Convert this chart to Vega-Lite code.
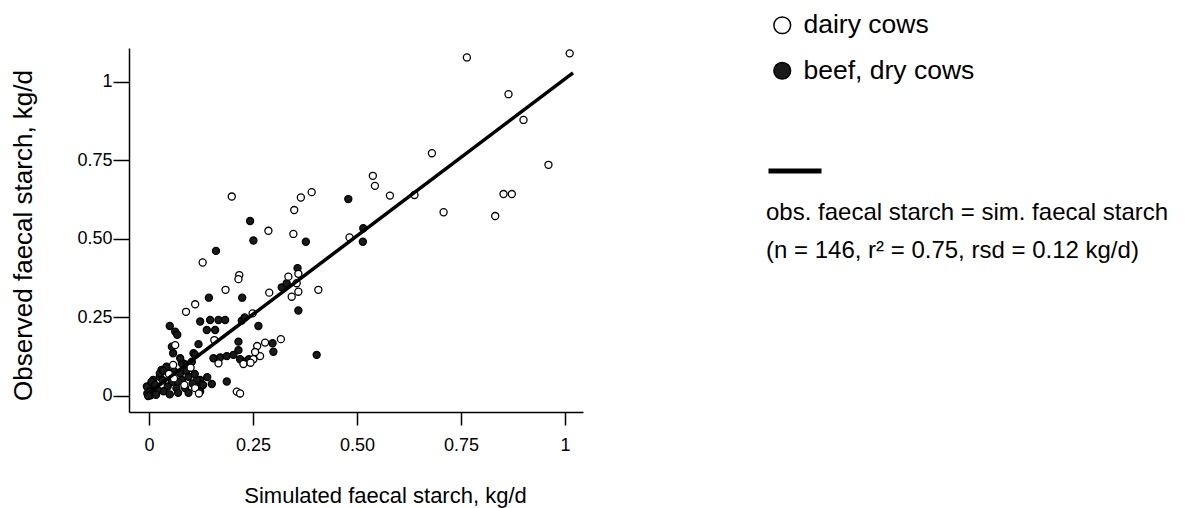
{
 "$schema": "https://vega.github.io/schema/vega-lite/v6.json",
 "autosize": {"type": "none"},
 "padding": {"left": 129, "top": 48, "right": 603, "bottom": 96},
 "width": 454,
 "height": 364,
 "background": "white",
 "config": {
  "font": "Liberation Sans",
  "view": {"stroke": null},
  "axis": {"grid": false, "domainColor": "#000", "domainWidth": 1.5, "tickColor": "#000", "tickWidth": 1.5, "labelColor": "#000", "titleColor": "#000", "labelFont": "Liberation Sans", "titleFont": "Liberation Sans", "titleFontWeight": "normal", "labelFontSize": 18, "labelFlush": false}
 },
 "layer": [
  {
   "data": {"values": [
    {"sim": 0.479, "obs": 0.627, "group": "beef, dry cows"},
    {"sim": 0.515, "obs": 0.534, "group": "beef, dry cows"},
    {"sim": 0.514, "obs": 0.491, "group": "beef, dry cows"},
    {"sim": 0.243, "obs": 0.557, "group": "beef, dry cows"},
    {"sim": 0.251, "obs": 0.495, "group": "beef, dry cows"},
    {"sim": 0.377, "obs": 0.491, "group": "beef, dry cows"},
    {"sim": 0.161, "obs": 0.462, "group": "beef, dry cows"},
    {"sim": 0.357, "obs": 0.407, "group": "beef, dry cows"},
    {"sim": 0.319, "obs": 0.346, "group": "beef, dry cows"},
    {"sim": 0.331, "obs": 0.359, "group": "beef, dry cows"},
    {"sim": 0.144, "obs": 0.313, "group": "beef, dry cows"},
    {"sim": 0.224, "obs": 0.313, "group": "beef, dry cows"},
    {"sim": 0.359, "obs": 0.272, "group": "beef, dry cows"},
    {"sim": 0.123, "obs": 0.237, "group": "beef, dry cows"},
    {"sim": 0.147, "obs": 0.242, "group": "beef, dry cows"},
    {"sim": 0.167, "obs": 0.242, "group": "beef, dry cows"},
    {"sim": 0.183, "obs": 0.242, "group": "beef, dry cows"},
    {"sim": 0.223, "obs": 0.240, "group": "beef, dry cows"},
    {"sim": 0.050, "obs": 0.223, "group": "beef, dry cows"},
    {"sim": 0.063, "obs": 0.205, "group": "beef, dry cows"},
    {"sim": 0.068, "obs": 0.195, "group": "beef, dry cows"},
    {"sim": 0.139, "obs": 0.210, "group": "beef, dry cows"},
    {"sim": 0.159, "obs": 0.210, "group": "beef, dry cows"},
    {"sim": 0.263, "obs": 0.223, "group": "beef, dry cows"},
    {"sim": 0.119, "obs": 0.165, "group": "beef, dry cows"},
    {"sim": 0.055, "obs": 0.157, "group": "beef, dry cows"},
    {"sim": 0.058, "obs": 0.136, "group": "beef, dry cows"},
    {"sim": 0.215, "obs": 0.173, "group": "beef, dry cows"},
    {"sim": 0.215, "obs": 0.146, "group": "beef, dry cows"},
    {"sim": 0.107, "obs": 0.136, "group": "beef, dry cows"},
    {"sim": 0.297, "obs": 0.168, "group": "beef, dry cows"},
    {"sim": 0.299, "obs": 0.141, "group": "beef, dry cows"},
    {"sim": 0.403, "obs": 0.131, "group": "beef, dry cows"},
    {"sim": 0.155, "obs": 0.120, "group": "beef, dry cows"},
    {"sim": 0.171, "obs": 0.123, "group": "beef, dry cows"},
    {"sim": 0.187, "obs": 0.127, "group": "beef, dry cows"},
    {"sim": 0.203, "obs": 0.131, "group": "beef, dry cows"},
    {"sim": 0.219, "obs": 0.117, "group": "beef, dry cows"},
    {"sim": 0.233, "obs": 0.110, "group": "beef, dry cows"},
    {"sim": 0.030, "obs": 0.083, "group": "beef, dry cows"},
    {"sim": 0.042, "obs": 0.088, "group": "beef, dry cows"},
    {"sim": 0.151, "obs": 0.038, "group": "beef, dry cows"},
    {"sim": 0.187, "obs": 0.046, "group": "beef, dry cows"},
    {"sim": 0.123, "obs": 0.051, "group": "beef, dry cows"},
    {"sim": 0.123, "obs": 0.025, "group": "beef, dry cows"},
    {"sim": 0.000, "obs": 0.030, "group": "beef, dry cows"},
    {"sim": 0.008, "obs": 0.040, "group": "beef, dry cows"},
    {"sim": -0.004, "obs": 0.008, "group": "beef, dry cows"},
    {"sim": 0.004, "obs": 0.002, "group": "beef, dry cows"},
    {"sim": 0.026, "obs": 0.061, "group": "beef, dry cows"},
    {"sim": 0.082, "obs": 0.104, "group": "beef, dry cows"},
    {"sim": 0.103, "obs": 0.109, "group": "beef, dry cows"},
    {"sim": 0.079, "obs": 0.104, "group": "beef, dry cows"},
    {"sim": 0.091, "obs": 0.100, "group": "beef, dry cows"},
    {"sim": 0.010, "obs": 0.051, "group": "beef, dry cows"},
    {"sim": 0.026, "obs": 0.072, "group": "beef, dry cows"},
    {"sim": 0.075, "obs": 0.072, "group": "beef, dry cows"},
    {"sim": 0.079, "obs": 0.051, "group": "beef, dry cows"},
    {"sim": 0.095, "obs": 0.061, "group": "beef, dry cows"},
    {"sim": 0.115, "obs": 0.051, "group": "beef, dry cows"},
    {"sim": 0.066, "obs": 0.025, "group": "beef, dry cows"},
    {"sim": 0.087, "obs": 0.025, "group": "beef, dry cows"},
    {"sim": 0.115, "obs": 0.025, "group": "beef, dry cows"},
    {"sim": 0.123, "obs": 0.014, "group": "beef, dry cows"},
    {"sim": -0.005, "obs": 0.030, "group": "beef, dry cows"},
    {"sim": 0.002, "obs": 0.014, "group": "beef, dry cows"},
    {"sim": -0.002, "obs": 0.000, "group": "beef, dry cows"},
    {"sim": 0.006, "obs": 0.045, "group": "beef, dry cows"},
    {"sim": 0.111, "obs": 0.131, "group": "beef, dry cows"},
    {"sim": 0.042, "obs": 0.093, "group": "beef, dry cows"},
    {"sim": 0.034, "obs": 0.080, "group": "beef, dry cows"},
    {"sim": 0.055, "obs": 0.045, "group": "beef, dry cows"},
    {"sim": 0.045, "obs": 0.030, "group": "beef, dry cows"},
    {"sim": 0.035, "obs": 0.015, "group": "beef, dry cows"},
    {"sim": 0.070, "obs": 0.010, "group": "beef, dry cows"},
    {"sim": 0.095, "obs": 0.010, "group": "beef, dry cows"},
    {"sim": 0.105, "obs": 0.040, "group": "beef, dry cows"},
    {"sim": 0.130, "obs": 0.035, "group": "beef, dry cows"},
    {"sim": 0.060, "obs": 0.080, "group": "beef, dry cows"},
    {"sim": 0.020, "obs": 0.020, "group": "beef, dry cows"},
    {"sim": 0.015, "obs": 0.035, "group": "beef, dry cows"},
    {"sim": 0.070, "obs": 0.045, "group": "beef, dry cows"},
    {"sim": 0.090, "obs": 0.080, "group": "beef, dry cows"},
    {"sim": 0.110, "obs": 0.070, "group": "beef, dry cows"},
    {"sim": 0.050, "obs": 0.005, "group": "beef, dry cows"},
    {"sim": 0.140, "obs": 0.060, "group": "beef, dry cows"},
    {"sim": 0.075, "obs": 0.120, "group": "beef, dry cows"},
    {"sim": 0.240, "obs": 0.117, "group": "beef, dry cows"},
    {"sim": 0.230, "obs": 0.250, "group": "beef, dry cows"},
    {"sim": 0.017, "obs": 0.004, "group": "beef, dry cows"},
    {"sim": 0.033, "obs": 0.050, "group": "beef, dry cows"},
    {"sim": 1.011, "obs": 1.091, "group": "dairy cows"},
    {"sim": 0.764, "obs": 1.078, "group": "dairy cows"},
    {"sim": 0.864, "obs": 0.961, "group": "dairy cows"},
    {"sim": 0.900, "obs": 0.879, "group": "dairy cows"},
    {"sim": 0.960, "obs": 0.736, "group": "dairy cows"},
    {"sim": 0.680, "obs": 0.773, "group": "dairy cows"},
    {"sim": 0.538, "obs": 0.701, "group": "dairy cows"},
    {"sim": 0.543, "obs": 0.669, "group": "dairy cows"},
    {"sim": 0.579, "obs": 0.638, "group": "dairy cows"},
    {"sim": 0.638, "obs": 0.640, "group": "dairy cows"},
    {"sim": 0.852, "obs": 0.643, "group": "dairy cows"},
    {"sim": 0.872, "obs": 0.643, "group": "dairy cows"},
    {"sim": 0.708, "obs": 0.585, "group": "dairy cows"},
    {"sim": 0.832, "obs": 0.573, "group": "dairy cows"},
    {"sim": 0.482, "obs": 0.505, "group": "dairy cows"},
    {"sim": 0.199, "obs": 0.635, "group": "dairy cows"},
    {"sim": 0.365, "obs": 0.632, "group": "dairy cows"},
    {"sim": 0.391, "obs": 0.649, "group": "dairy cows"},
    {"sim": 0.349, "obs": 0.592, "group": "dairy cows"},
    {"sim": 0.287, "obs": 0.526, "group": "dairy cows"},
    {"sim": 0.347, "obs": 0.516, "group": "dairy cows"},
    {"sim": 0.129, "obs": 0.425, "group": "dairy cows"},
    {"sim": 0.217, "obs": 0.385, "group": "dairy cows"},
    {"sim": 0.215, "obs": 0.372, "group": "dairy cows"},
    {"sim": 0.335, "obs": 0.380, "group": "dairy cows"},
    {"sim": 0.359, "obs": 0.389, "group": "dairy cows"},
    {"sim": 0.355, "obs": 0.359, "group": "dairy cows"},
    {"sim": 0.343, "obs": 0.316, "group": "dairy cows"},
    {"sim": 0.359, "obs": 0.332, "group": "dairy cows"},
    {"sim": 0.407, "obs": 0.338, "group": "dairy cows"},
    {"sim": 0.289, "obs": 0.329, "group": "dairy cows"},
    {"sim": 0.184, "obs": 0.338, "group": "dairy cows"},
    {"sim": 0.111, "obs": 0.292, "group": "dairy cows"},
    {"sim": 0.089, "obs": 0.268, "group": "dairy cows"},
    {"sim": 0.249, "obs": 0.263, "group": "dairy cows"},
    {"sim": 0.157, "obs": 0.178, "group": "dairy cows"},
    {"sim": 0.063, "obs": 0.162, "group": "dairy cows"},
    {"sim": 0.260, "obs": 0.159, "group": "dairy cows"},
    {"sim": 0.279, "obs": 0.170, "group": "dairy cows"},
    {"sim": 0.317, "obs": 0.181, "group": "dairy cows"},
    {"sim": 0.267, "obs": 0.127, "group": "dairy cows"},
    {"sim": 0.251, "obs": 0.117, "group": "dairy cows"},
    {"sim": 0.227, "obs": 0.102, "group": "dairy cows"},
    {"sim": 0.244, "obs": 0.106, "group": "dairy cows"},
    {"sim": 0.167, "obs": 0.104, "group": "dairy cows"},
    {"sim": 0.058, "obs": 0.099, "group": "dairy cows"},
    {"sim": 0.211, "obs": 0.014, "group": "dairy cows"},
    {"sim": 0.219, "obs": 0.008, "group": "dairy cows"},
    {"sim": 0.060, "obs": 0.056, "group": "dairy cows"},
    {"sim": 0.048, "obs": 0.070, "group": "dairy cows"},
    {"sim": 0.111, "obs": 0.025, "group": "dairy cows"},
    {"sim": 0.120, "obs": 0.008, "group": "dairy cows"},
    {"sim": 0.100, "obs": 0.090, "group": "dairy cows"},
    {"sim": 0.085, "obs": 0.035, "group": "dairy cows"},
    {"sim": 0.255, "obs": 0.140, "group": "dairy cows"}
   ]},
   "mark": {"type": "point", "shape": "circle", "filled": true, "stroke": "#000", "strokeWidth": 1.3, "size": 50, "opacity": 1},
   "encoding": {
    "x": {"field": "sim", "type": "quantitative",
     "scale": {"domain": [-0.048, 1.043], "nice": false, "zero": false},
     "axis": {"values": [0, 0.25, 0.5, 0.75, 1], "labelExpr": "datum.value == 0 ? '0' : datum.value == 1 ? '1' : format(datum.value, '.2f')", "tickSize": 13, "labelPadding": 11, "title": "Simulated faecal starch, kg/d", "titleFontSize": 22, "titleX": 256, "titleY": 83, "titleBaseline": "middle", "titleAlign": "center"}},
    "y": {"field": "obs", "type": "quantitative",
     "scale": {"domain": [-0.051, 1.108], "nice": false, "zero": false},
     "axis": {"values": [0, 0.25, 0.5, 0.75, 1], "labelExpr": "datum.value == 0 ? '0' : datum.value == 1 ? '1' : format(datum.value, '.2f')", "tickSize": 16, "labelPadding": 1, "title": "Observed faecal starch, kg/d", "titleFontSize": 26, "titleX": -106, "titleY": 187, "titleAngle": -90, "titleBaseline": "middle", "titleAlign": "center"}},
    "fill": {"field": "group", "type": "nominal",
     "scale": {"domain": ["dairy cows", "beef, dry cows"], "range": ["#ffffff", "#1a1a1a"]},
     "legend": {"title": null, "orient": "none", "legendX": 640, "legendY": -36, "symbolType": "circle", "symbolSize": 280, "symbolStrokeColor": "#000", "symbolStrokeWidth": 1.5, "labelFontSize": 26.5, "labelOffset": 8, "rowPadding": 18.5, "labelColor": "#000", "labelFont": "Liberation Sans", "labelLimit": 400}}
   }
  },
  {
   "data": {"values": [
    {"sim": 0.0, "obs": 0.01, "k": "obs = sim"},
    {"sim": 1.019, "obs": 1.029, "k": "obs = sim"}
   ]},
   "mark": {"type": "line", "strokeWidth": 3.5},
   "encoding": {
    "x": {"field": "sim", "type": "quantitative"},
    "y": {"field": "obs", "type": "quantitative"},
    "stroke": {"field": "k", "type": "nominal", "scale": {"range": ["#000000"]},
     "legend": {"title": ["obs. faecal starch = sim. faecal starch", "(n = 146, r² = 0.75, rsd = 0.12 kg/d)"], "titleOrient": "bottom", "orient": "none", "legendX": 637, "legendY": 94, "symbolType": "stroke", "symbolSize": 2809, "symbolStrokeWidth": 5, "symbolStrokeColor": "#000", "labelExpr": "''", "titleFontSize": 24, "titleFontWeight": "normal", "titleLineHeight": 38, "titleColor": "#000", "titleFont": "Liberation Sans", "titleAnchor": "start", "titleAlign": "left", "titlePadding": 20, "titleLimit": 700}}
   }
  }
 ]
}
